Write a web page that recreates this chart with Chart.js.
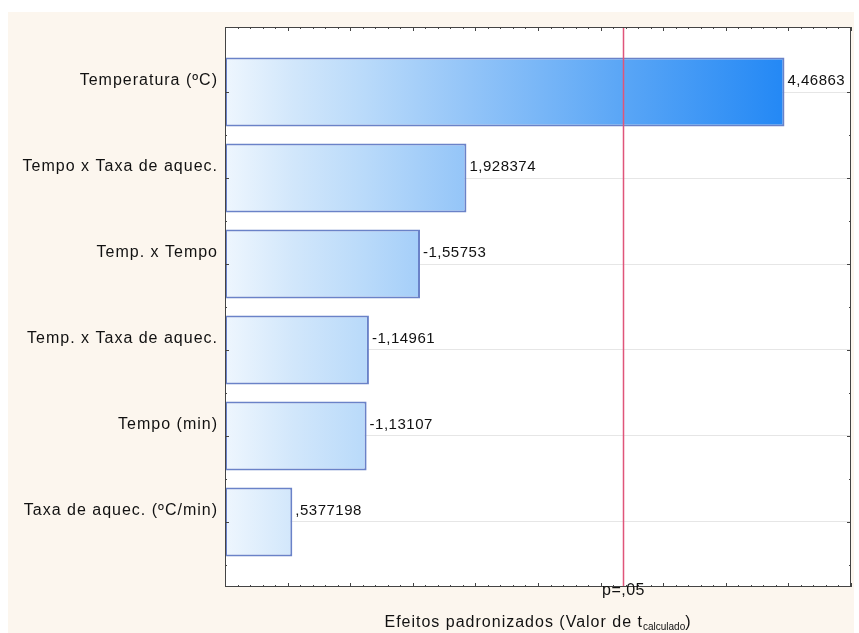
<!DOCTYPE html>
<html>
<head>
<meta charset="utf-8">
<script src="https://cdn.jsdelivr.net/npm/chart.js@4/dist/chart.umd.min.js"></script>
<style>
  body { margin: 0; background: #fff; }
  canvas { display: block; }
</style>
</head>
<body>
<canvas id="paretoChart" width="859" height="633"></canvas>
<script>
// fatores e efeitos padronizados (t calculado)
const fatores = ['Temperatura (ºC)', 'Tempo x Taxa de aquec.', 'Temp. x Tempo',
                 'Temp. x Taxa de aquec.', 'Tempo (min)', 'Taxa de aquec. (ºC/min)'];
const efeitos = [4.46863, 1.928374, -1.55753, -1.14961, -1.13107, 0.5377198];
const tCritico = 3.182446;   // p=,05
const xTicks = [0, 0.5, 1, 1.5, 2, 2.5, 3, 3.5, 4, 4.5, 5];

const FONTE = '"Liberation Sans", Arial, sans-serif';

function formatar(v) {
    return String(v).replace('.', ',').replace(/^(-?)0,/, '$1,');
}

function espaco(c, px) {
    if ('letterSpacing' in c) c.letterSpacing = px + 'px';
}

const moldura = {
    id: 'moldura',
    beforeDraw(chart) {
        const c = chart.ctx, a = chart.chartArea;
        c.save();
        c.fillStyle = '#ffffff';
        c.fillRect(0, 0, chart.width, chart.height);
        c.fillStyle = '#fcf6ee';
        c.fillRect(8, 12, 846, 621);
        c.fillStyle = '#ffffff';
        c.fillRect(a.left, a.top, a.right - a.left, a.bottom - a.top);
        c.restore();
    },
    afterDatasetsDraw(chart) {
        const c = chart.ctx, a = chart.chartArea;
        const xs = chart.scales.x, ys = chart.scales.y;
        c.save();
        // linha p=,05
        const xr = Math.round(xs.getPixelForValue(tCritico)) + 0.5;
        c.strokeStyle = '#e0557a';
        c.lineWidth = 1.5;
        c.beginPath();
        c.moveTo(xr, a.top);
        c.lineTo(xr, a.bottom);
        c.stroke();

        // fatores (eixo y)
        c.fillStyle = '#111';
        c.textBaseline = 'middle';
        c.font = '16px ' + FONTE;
        espaco(c, 1);
        c.textAlign = 'right';
        fatores.forEach((f, i) => {
            c.fillText(f, a.left - 7, ys.getPixelForValue(i) - 11);
        });

        // valores nas barras
        c.font = '15px ' + FONTE;
        espaco(c, 0.5);
        c.textAlign = 'left';
        const meta = chart.getDatasetMeta(0);
        meta.data.forEach((bar, i) => {
            c.fillText(formatar(efeitos[i]), bar.x + 3, bar.y - 11);
        });

        // moldura e marcas
        c.strokeStyle = '#444';
        c.lineWidth = 1;
        c.strokeRect(a.left + 0.5, a.top + 0.5, a.right - a.left - 1, a.bottom - a.top - 1);
        c.beginPath();
        c.moveTo(a.left + 0.5, a.top);
        c.lineTo(a.left + 0.5, a.bottom);
        c.stroke();
        c.beginPath();
        xTicks.forEach((t, k) => {
            const px = Math.round(xs.getPixelForValue(t)) + 0.5;
            c.moveTo(px, a.bottom); c.lineTo(px, a.bottom - 4);
            c.moveTo(px, a.top); c.lineTo(px, a.top + 4);
            if (k < xTicks.length - 1) {
                for (let m = 1; m < 5; m++) {
                    const pm = Math.round(xs.getPixelForValue(t + m * 0.1)) + 0.5;
                    c.moveTo(pm, a.bottom); c.lineTo(pm, a.bottom - 2);
                    c.moveTo(pm, a.top); c.lineTo(pm, a.top + 2);
                }
            }
        });
        fatores.forEach((f, i) => {
            [i, i + 0.5].forEach((v, k) => {
                const py = Math.round(ys.getPixelForValue(v)) + 0.5;
                const len = k === 0 ? 4 : 2;
                c.moveTo(a.left, py); c.lineTo(a.left + len, py);
                c.moveTo(a.right, py); c.lineTo(a.right - len, py);
            });
        });
        c.stroke();

        // rótulos do eixo x
        c.fillStyle = '#111';
        c.textAlign = 'center';
        c.font = '16px ' + FONTE;
        espaco(c, 0.5);
        c.fillText('p=,05', xr, a.bottom + 4);

        const cx = (a.left + a.right) / 2, ty = 627;
        const t1 = 'Efeitos padronizados (Valor de t', sub = 'calculado', t2 = ')';
        espaco(c, 1);
        c.font = '16px ' + FONTE;
        const w1 = c.measureText(t1).width, w3 = c.measureText(t2).width;
        espaco(c, 0);
        c.font = '10px ' + FONTE;
        const w2 = c.measureText(sub).width;
        let x0 = cx - (w1 + w2 + w3) / 2;
        c.textAlign = 'left';
        c.textBaseline = 'alphabetic';
        espaco(c, 1);
        c.font = '16px ' + FONTE;
        c.fillText(t1, x0, ty);
        espaco(c, 0);
        c.font = '10px ' + FONTE;
        c.fillText(sub, x0 + w1, ty + 3);
        espaco(c, 1);
        c.font = '16px ' + FONTE;
        c.fillText(t2, x0 + w1 + w2, ty);
        c.restore();
    }
};

function gradiente(context) {
    const chart = context.chart;
    const a = chart.chartArea;
    if (!a) return '#9cc9f8';
    const xs = chart.scales.x;
    const g = chart.ctx.createLinearGradient(a.left, 0, xs.getPixelForValue(efeitos[0]), 0);
    g.addColorStop(0, '#eef6fe');
    g.addColorStop(0.12, '#d2e7fb');
    g.addColorStop(0.25, '#b9dafa');
    g.addColorStop(0.43, '#94c5f8');
    g.addColorStop(0.71, '#5aa6f6');
    g.addColorStop(1, '#2388f5');
    return g;
}

new Chart(document.getElementById('paretoChart').getContext('2d'), {
    type: 'bar',
    data: {
        datasets: [{
            data: efeitos.map((v, i) => ({ x: Math.abs(v), y: i })),
            backgroundColor: gradiente,
            borderColor: '#6a82c8',
            borderWidth: 2,
            borderSkipped: false,
            barPercentage: 0.8,
            categoryPercentage: 1
        }]
    },
    plugins: [moldura],
    options: {
        indexAxis: 'y',
        responsive: false,
        animation: false,
        layout: { padding: { top: 27, right: 8, bottom: 46, left: 0 } },
        plugins: {
            legend: { display: false },
            tooltip: { enabled: false }
        },
        scales: {
            x: {
                type: 'linear',
                min: 0,
                max: 5,
                display: false
            },
            y: {
                type: 'linear',
                reverse: true,
                offset: false,
                min: -0.756,
                max: 5.756,
                afterFit: s => { s.width = 225; },
                afterBuildTicks: s => { s.ticks = fatores.map((f, i) => ({ value: i })); },
                border: { display: false },
                grid: { color: '#e6e6e6', drawTicks: false, offset: false },
                ticks: { display: false }
            }
        }
    }
});
</script>
</body>
</html>
